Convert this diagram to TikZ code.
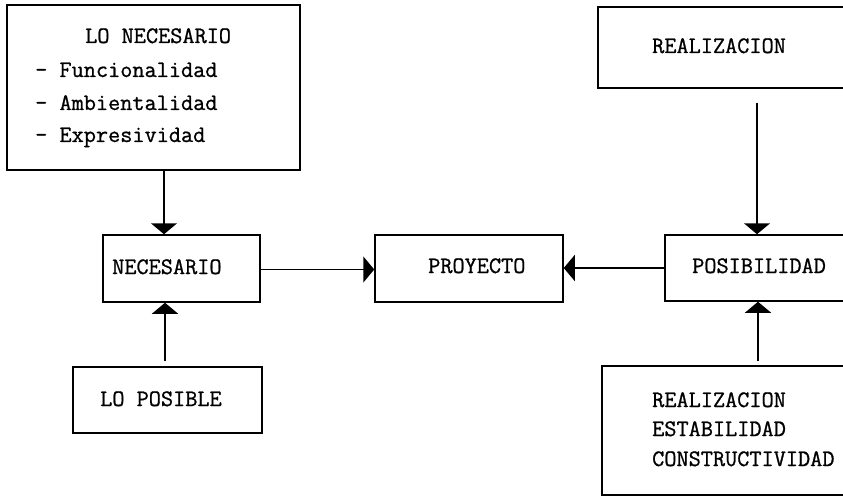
\documentclass[tikz,border=0pt]{standalone}
\usepackage{fontspec}
\newfontfamily\typew[FakeBold=0.9]{Latin Modern Mono}
\usetikzlibrary{arrows.meta}
\begin{document}
\begin{tikzpicture}[x=1pt,y=-1pt,
  box/.style={draw=black,line width=1.5pt,rectangle,inner sep=0pt},
  txt/.style={anchor=base west,inner sep=0pt,font=\fontsize{23.6}{32}\typew},
  arr/.style={line width=1.5pt,-{Triangle[width=26pt,length=11pt]}}]
\useasboundingbox (0,0) rectangle (843,497);
\fill[white] (0,0) rectangle (843,497);
\clip (0,0) rectangle (843,497);
% boxes
\node[box,minimum width=293pt,minimum height=165pt] (ln) at (153.5,87.5) {};
\node[box,minimum width=157pt,minimum height=67pt] (nec) at (181.5,268.5) {};
\node[box,minimum width=188pt,minimum height=67pt] (proy) at (469,268.5) {};
\node[box,minimum width=195pt,minimum height=66pt] (pos) at (762.5,268) {};
\node[box,minimum width=262pt,minimum height=81pt] (real) at (729,47.5) {};
\node[box,minimum width=189pt,minimum height=66pt] (lp) at (167.5,400) {};
\node[box,minimum width=258pt,minimum height=129pt] (rec) at (731,430.5) {};
% texts
\node[txt] (t1) at (85,43) {LO NECESARIO};
\node[txt] (t2) at (35,77) {- Funcionalidad};
\node[txt] (t3) at (35,110) {- Ambientalidad};
\node[txt] (t4) at (35,142) {- Expresividad};
\node[txt] (t5) at (112,274) {NECESARIO};
\node[txt] (t6) at (428,273) {PROYECTO};
\node[txt] (t7) at (692,273) {POSIBILIDAD};
\node[txt] (t8) at (100,406) {LO POSIBLE};
\node[txt] (t9) at (652,53) {REALIZACION};
\node[txt] (t10) at (652,407) {REALIZACION};
\node[txt] (t11) at (652,436) {ESTABILIDAD};
\node[txt] (t12) at (652,466) {CONSTRUCTIVIDAD};
% connectors
\draw[arr] ([xshift=-17.5pt]nec.north |- ln.south) -- ([xshift=-17.5pt]nec.north);
\draw[arr] ([xshift=-16.5pt,yshift=5pt]nec.south |- lp.north) -- ([xshift=-16.5pt]nec.south);
\draw[arr] ([yshift=-1pt]nec.east) -- ([yshift=-1pt]nec.east -| proy.west);
\draw[arr] (pos.west) -- (pos.west -| proy.east);
\draw[arr] ([xshift=-5.5pt,yshift=-14pt]pos.north |- real.south) -- ([xshift=-5.5pt]pos.north);
\draw[arr] ([xshift=-4.5pt,yshift=4pt]pos.south |- rec.north) -- ([xshift=-4.5pt]pos.south);
\end{tikzpicture}
\end{document}
